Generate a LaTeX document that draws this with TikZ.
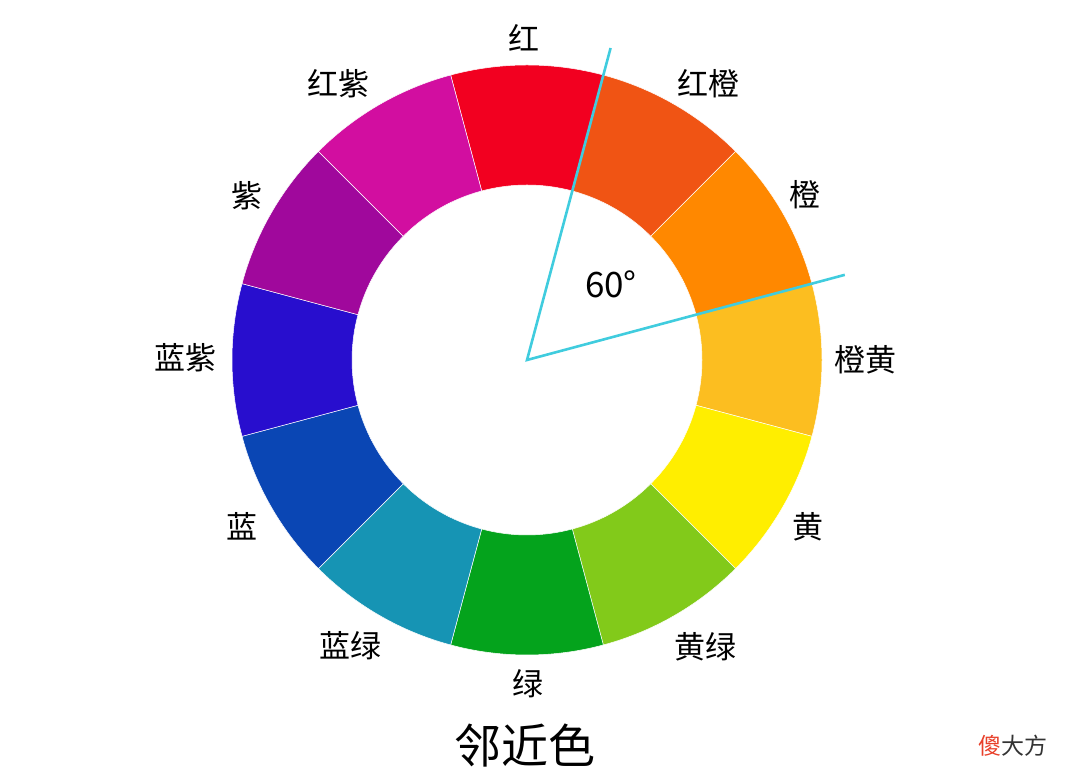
\documentclass[tikz,border=0pt]{standalone}
\usepackage{fontspec}
\setmainfont{Noto Sans CJK SC}
\usetikzlibrary{positioning,calc}

\definecolor{cRed}{RGB}{242,0,32}
\definecolor{cRedOrange}{RGB}{240,84,20}
\definecolor{cOrange}{RGB}{255,136,0}
\definecolor{cOrangeYellow}{RGB}{252,190,32}
\definecolor{cYellow}{RGB}{255,238,0}
\definecolor{cYellowGreen}{RGB}{130,202,26}
\definecolor{cGreen}{RGB}{4,163,28}
\definecolor{cBlueGreen}{RGB}{22,148,180}
\definecolor{cBlue}{RGB}{10,70,180}
\definecolor{cBlueViolet}{RGB}{40,14,206}
\definecolor{cViolet}{RGB}{160,8,156}
\definecolor{cRedViolet}{RGB}{210,14,160}
\definecolor{cRay}{RGB}{64,204,222}
\definecolor{cMark}{RGB}{232,64,42}

\begin{document}
\begin{tikzpicture}[x=1pt, y=1pt]
	% 定义样式
	\tikzstyle{seg} = [draw=white, line width=0.5pt]
	\tikzstyle{lbl} = [font=\fontsize{31}{34}\selectfont, inner sep=0pt]
	\tikzstyle{ray} = [draw=cRay, line width=2.6pt]
	
	\useasboundingbox (0,0) rectangle (1068,783);
	\coordinate (o) at (527,423);
	
	% 色环
	\foreach \ang/\col in {90/cRed, 60/cRedOrange, 30/cOrange, 0/cOrangeYellow,
		-30/cYellow, -60/cYellowGreen, -90/cGreen, -120/cBlueGreen,
		-150/cBlue, 180/cBlueViolet, 150/cViolet, 120/cRedViolet}{
		\filldraw[seg, fill=\col] ($(o)+(\ang-15:295pt)$) arc[start angle=\ang-15, end angle=\ang+15, radius=295pt]
		-- ($(o)+(\ang+15:175pt)$) arc[start angle=\ang+15, end angle=\ang-15, radius=175pt] -- cycle;
	}
	
	%绘制节点
	\node [lbl] (red) at (524,745) {红};
	\node [lbl] (redorange) at (708,699) {红橙};
	\node [lbl] (orange) at (805,588) {橙};
	\node [lbl] (orangeyellow) at (865,423) {橙黄};
	\node [lbl] (yellow) at (808,256) {黄};
	\node [lbl] (yellowgreen) at (705,136) {黄绿};
	\node [lbl] (green) at (528,99) {绿};
	\node [lbl] (bluegreen) at (350,137) {蓝绿};
	\node [lbl] (blue) at (242,257) {蓝};
	\node [lbl] (blueviolet) at (185,425) {蓝紫};
	\node [lbl] (violet) at (247,587) {紫};
	\node [lbl] (redviolet) at (338,699) {红紫};
	
	% 60度夹角
	\coordinate (rayA) at ($(o)+(75:323pt)$);
	\coordinate (rayB) at ($(o)+(15:329pt)$);
	\draw [ray, line join=miter] (rayA) -- (o) -- (rayB);
	\node [font=\fontsize{35}{38}\selectfont, inner sep=0pt] (angle) at (611,499) {60°};
	
	\node [font=\fontsize{47}{50}\selectfont, inner sep=0pt] (title) at (525,37) {邻近色};
	\node [font=\fontsize{23}{25}\selectfont, inner sep=0pt, text=black!80] (mark) at (1013,37) {\textcolor{cMark}{傻}大方};
\end{tikzpicture}
\end{document}
